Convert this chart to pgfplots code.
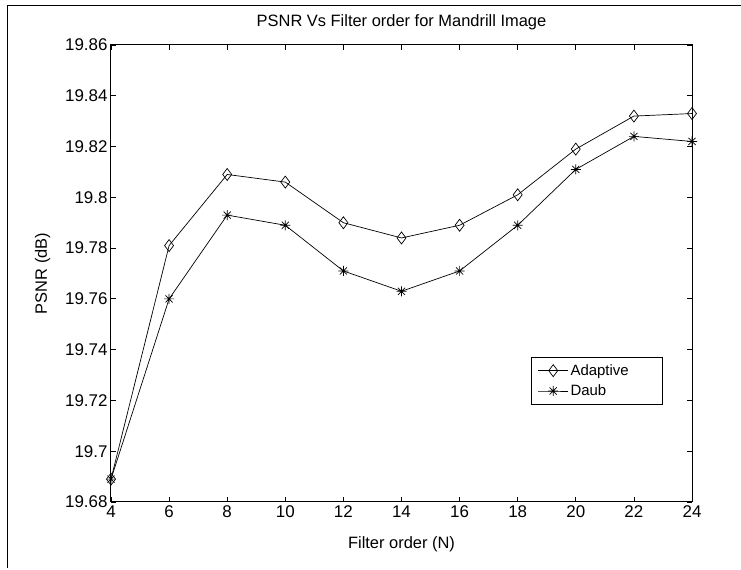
\documentclass[border=0pt]{standalone}
\usepackage{pgfplots}
\pgfplotsset{compat=1.18}
\usepackage{fontspec}
\setmainfont{Liberation Sans}
\pgfdeclareplotmark{mstar}{%
 \pgfpathmoveto{\pgfqpoint{0pt}{\pgfplotmarksize}}\pgfpathlineto{\pgfqpoint{0pt}{-\pgfplotmarksize}}%
 \pgfpathmoveto{\pgfqpoint{\pgfplotmarksize}{0pt}}\pgfpathlineto{\pgfqpoint{-\pgfplotmarksize}{0pt}}%
 \pgfpathmoveto{\pgfqpoint{.707\pgfplotmarksize}{.707\pgfplotmarksize}}\pgfpathlineto{\pgfqpoint{-.707\pgfplotmarksize}{-.707\pgfplotmarksize}}%
 \pgfpathmoveto{\pgfqpoint{-.707\pgfplotmarksize}{.707\pgfplotmarksize}}\pgfpathlineto{\pgfqpoint{.707\pgfplotmarksize}{-.707\pgfplotmarksize}}%
 \pgfusepathqstroke}
\begin{document}
\begin{tikzpicture}
\useasboundingbox[fill=white] (-111bp,-68bp) rectangle (630bp,502bp);
\draw[line width=1bp] (-103bp,-66bp) -- (-103bp,496bp) -- (630bp,496bp);
\begin{axis}[
  at={(0,0)}, anchor=south west,
  scale only axis, width=581bp, height=457bp,
  xmin=4, xmax=24, ymin=19.68, ymax=19.86,
  xtick={4,6,...,24},
  ytick={19.68,19.70,...,19.86},
  yticklabels={19.68,19.7,19.72,19.74,19.76,19.78,19.8,19.82,19.84,19.86},
  /pgf/number format/assume math mode=true,
  tick align=inside, major tick length=5bp,
  axis line style={line width=1bp},
  tick style={line width=0.8bp, black},
  font=\fontsize{16.5}{19}\selectfont,
  tick label style={font=\fontsize{17}{19}\selectfont},
  title={PSNR Vs Filter order for Mandrill Image},
  title style={at={(0.5,1)}, anchor=base, yshift=13bp, font=\fontsize{16.5}{19}\selectfont},
  xlabel={Filter order (N)},
  xlabel style={at={(0.5,0)}, anchor=base, yshift=-46bp},
  ylabel={PSNR (dB)},
  ylabel style={at={(axis description cs:-0.1102,0.5)}, anchor=base},
  legend style={at={(0.95,0.317)}, anchor=north east, draw=black, line width=0.8bp,
    font=\fontsize{15}{17}\selectfont, cells={anchor=west}, row sep=4bp,
    inner xsep=6bp, inner ysep=5bp},
  legend cell align=left,
  legend image code/.code={\draw[mark repeat=2,mark phase=2,#1] plot coordinates {(0bp,0bp) (15bp,0bp) (30bp,0bp)};},
  every axis plot/.append style={black, line width=0.7bp},
]
\addplot[mark=diamond, mark size=6bp, mark options={fill=white, line width=0.7bp}] coordinates {
(4,19.689) (6,19.781) (8,19.809) (10,19.806) (12,19.790) (14,19.784)
(16,19.789) (18,19.801) (20,19.819) (22,19.832) (24,19.833)};
\addlegendentry{\makebox[84bp][l]{Adaptive}}
\addplot[mark=mstar, mark size=5bp, mark options={line width=0.7bp}] coordinates {
(4,19.689) (6,19.760) (8,19.793) (10,19.789) (12,19.771) (14,19.763)
(16,19.771) (18,19.789) (20,19.811) (22,19.824) (24,19.822)};
\addlegendentry{Daub}
\end{axis}
\end{tikzpicture}
\end{document}
